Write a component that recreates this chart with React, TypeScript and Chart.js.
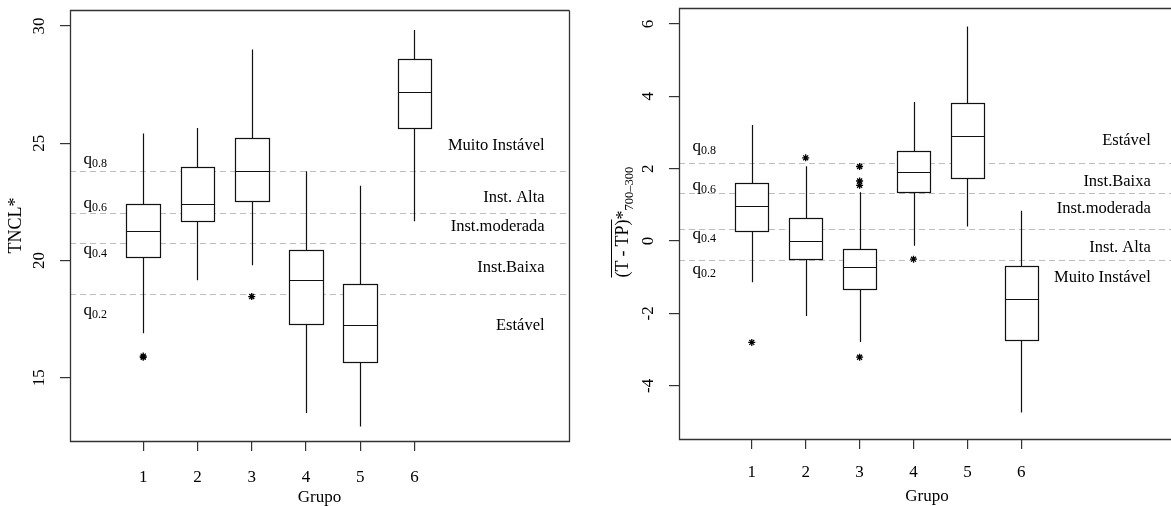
import React, { useEffect, useRef } from 'react';
import { Chart, registerables } from 'chart.js';

Chart.register(...registerables);

// ---------- data ----------
const groups = [1, 2, 3, 4, 5, 6];
const quantileNames = ['0.2', '0.4', '0.6', '0.8'];

// Left panel: TNCL*
const tnclWhiskerLow = [16.9, 19.15, 19.79, 13.49, 12.92, 21.67];
const tnclQ1 = [20.16, 21.67, 22.55, 17.31, 15.68, 25.65];
const tnclMedian = [21.25, 22.42, 23.83, 19.17, 17.24, 27.18];
const tnclQ3 = [22.42, 23.99, 25.21, 20.43, 19.0, 28.59];
const tnclWhiskerHigh = [25.41, 25.65, 29.0, 23.8, 23.19, 29.83];
const tnclOutliers = [[15.87, 15.92], [], [18.46], [], [], []];
const tnclQuantiles = [18.55, 20.75, 22.02, 23.83];
const tnclQuantileLabelY = [17.75, 20.34, 22.32, 24.2];
const tnclYTicks = [15, 20, 25, 30];
const tnclClasses = ['Estável', 'Inst.Baixa', 'Inst.moderada', 'Inst. Alta', 'Muito Instável'];
const tnclClassLabelY = [17.22, 19.71, 21.42, 22.68, 24.88];

// Right panel: (T-TP)*700-300
const ttpWhiskerLow = [-1.14, -2.07, -2.79, -0.13, 0.4, -4.74];
const ttpQ1 = [0.27, -0.5, -1.33, 1.36, 1.74, -2.74];
const ttpMedian = [0.96, 0.01, -0.73, 1.91, 2.9, -1.59];
const ttpQ3 = [1.6, 0.64, -0.22, 2.5, 3.81, -0.68];
const ttpWhiskerHigh = [3.21, 2.07, 1.35, 3.84, 5.93, 0.84];
const ttpOutliers = [[-2.8], [2.3], [2.06, 1.66, 1.54, -3.21], [-0.5], [], []];
const ttpQuantiles = [-0.53, 0.33, 1.34, 2.16];
const ttpQuantileLabelY = [-0.85, 0.1, 1.47, 2.53];
const ttpYTicks = [-4, -2, 0, 2, 4, 6];
const ttpClasses = ['Muito Instável', 'Inst. Alta', 'Inst.moderada', 'Inst.Baixa', 'Estável'];
const ttpClassLabelY = [-1.0, -0.17, 0.9, 1.64, 2.77];

// ---------- styling ----------
const SERIF = "'Liberation Serif', 'Times New Roman', serif";
const X_MIN = -0.35;
const X_MAX = 8.85;
const BOX_HALF = 0.31;
const Q_LABEL_X = -0.1;
const CLASS_LABEL_X = 8.4;

type PanelDef = {
  lo: number[]; q1: number[]; med: number[]; q3: number[]; hi: number[];
  outliers: number[][]; quantiles: number[]; qLabelY: number[];
  classes: string[]; classY: number[]; yTicks: number[];
  yMin: number; yMax: number; yTitle: string | null; customYTitle: boolean;
  canvasW: number; pageLeft: number; yAxisW: number; xAxisH: number;
  padTop: number; padRight: number; drawRightFrame: boolean;
  tickPadY: number; tickPadX: number; titlePadBottom: number;
};

function makePlugin(p: PanelDef) {
  return {
    id: 'boxplotDraw',
    beforeDatasetsDraw(chart: any) {
      const { ctx, chartArea: a, scales } = chart;
      const x = scales.x;
      const y = scales.y;
      ctx.save();
      ctx.beginPath();
      ctx.rect(a.left, a.top, a.right - a.left, a.bottom - a.top);
      ctx.clip();
      // quantile dashed lines
      ctx.strokeStyle = '#bdbdbd';
      ctx.lineWidth = 1;
      ctx.setLineDash([6, 4]);
      p.quantiles.forEach((q) => {
        const py = Math.round(y.getPixelForValue(q)) + 0.5;
        ctx.beginPath();
        ctx.moveTo(a.left, py);
        ctx.lineTo(a.right, py);
        ctx.stroke();
      });
      ctx.setLineDash([]);
      // quantile labels
      ctx.fillStyle = '#000';
      ctx.textAlign = 'left';
      ctx.textBaseline = 'alphabetic';
      const qx = x.getPixelForValue(Q_LABEL_X);
      p.qLabelY.forEach((v, i) => {
        const base = y.getPixelForValue(v) + 2;
        ctx.font = `17px ${SERIF}`;
        ctx.fillText('q', qx, base);
        const w = ctx.measureText('q').width;
        ctx.font = `12px ${SERIF}`;
        ctx.fillText(quantileNames[i], qx + w, base + 3);
      });
      // class labels
      ctx.font = `16.5px ${SERIF}`;
      ctx.textAlign = 'right';
      ctx.textBaseline = 'middle';
      const cxLab = x.getPixelForValue(CLASS_LABEL_X);
      p.classes.forEach((c, i) => {
        ctx.fillText(c, cxLab, y.getPixelForValue(p.classY[i]));
      });
      // boxes and whiskers
      ctx.strokeStyle = '#111';
      ctx.lineWidth = 1.2;
      groups.forEach((g, i) => {
        const cx = Math.round(x.getPixelForValue(g)) + 0.5;
        const l = Math.round(x.getPixelForValue(g - BOX_HALF)) + 0.5;
        const r = Math.round(x.getPixelForValue(g + BOX_HALF)) + 0.5;
        const yLo = y.getPixelForValue(p.lo[i]);
        const yQ1 = Math.round(y.getPixelForValue(p.q1[i])) + 0.5;
        const yMed = Math.round(y.getPixelForValue(p.med[i])) + 0.5;
        const yQ3 = Math.round(y.getPixelForValue(p.q3[i])) + 0.5;
        const yHi = y.getPixelForValue(p.hi[i]);
        ctx.beginPath();
        ctx.moveTo(cx, yQ3);
        ctx.lineTo(cx, yHi);
        ctx.moveTo(cx, yQ1);
        ctx.lineTo(cx, yLo);
        ctx.stroke();
        ctx.fillStyle = '#fff';
        ctx.fillRect(l, yQ3, r - l, yQ1 - yQ3);
        ctx.strokeRect(l, yQ3, r - l, yQ1 - yQ3);
        ctx.beginPath();
        ctx.moveTo(l, yMed);
        ctx.lineTo(r, yMed);
        ctx.stroke();
      });
      ctx.restore();
    },
    afterDraw(chart: any) {
      const { ctx, chartArea: a } = chart;
      ctx.save();
      ctx.strokeStyle = '#333';
      ctx.lineWidth = 1.3;
      const L = Math.round(a.left) + 0.5;
      const T = Math.round(a.top) + 0.5;
      const R = Math.round(a.right) + 0.5;
      const B = Math.round(a.bottom) + 0.5;
      ctx.beginPath();
      ctx.moveTo(R, T);
      ctx.lineTo(L, T);
      ctx.lineTo(L, B);
      ctx.lineTo(R, B);
      if (p.drawRightFrame) ctx.lineTo(R, T);
      ctx.stroke();
      if (p.customYTitle) {
        // (T-TP)* with overline and subscript 700–300, rotated
        const midY = (a.top + a.bottom) / 2;
        ctx.translate(38, midY + 54);
        ctx.rotate(-Math.PI / 2);
        ctx.fillStyle = '#000';
        ctx.textAlign = 'left';
        ctx.textBaseline = 'alphabetic';
        ctx.font = `18px ${SERIF}`;
        let px = 0;
        const gap = 4;
        ctx.fillText('(T', px, 0);
        px += ctx.measureText('(T').width + gap;
        ctx.fillText('-', px, 0);
        px += ctx.measureText('-').width + gap;
        ctx.fillText('TP)', px, 0);
        px += ctx.measureText('TP)').width;
        const overEnd = px;
        ctx.fillText('*', px, 1);
        px += ctx.measureText('*').width;
        ctx.font = `12.5px ${SERIF}`;
        ctx.fillText('700–300', px, 5);
        ctx.strokeStyle = '#000';
        ctx.lineWidth = 1;
        ctx.beginPath();
        ctx.moveTo(0, -16.5);
        ctx.lineTo(overEnd, -16.5);
        ctx.stroke();
      }
      ctx.restore();
    },
  };
}

function zeroPadding(s: any) {
  s.paddingTop = 0;
  s.paddingBottom = 0;
  s.paddingLeft = 0;
  s.paddingRight = 0;
}

function buildConfig(p: PanelDef): any {
  const outlierData: { x: number; y: number }[] = [];
  p.outliers.forEach((arr, i) => arr.forEach((v) => outlierData.push({ x: groups[i], y: v })));
  const tickFont = { family: SERIF, size: 17 };
  return {
    type: 'scatter',
    data: {
      datasets: [
        {
          label: 'outliers',
          data: outlierData,
          pointStyle: 'star',
          radius: 3.5,
          borderWidth: 1.3,
          borderColor: '#000',
          backgroundColor: '#000',
        },
      ],
    },
    options: {
      animation: false,
      responsive: false,
      devicePixelRatio: 1,
      layout: { padding: { top: p.padTop, right: p.padRight, left: 0, bottom: 0 } },
      plugins: { legend: { display: false }, tooltip: { enabled: false } },
      scales: {
        x: {
          type: 'linear',
          min: X_MIN,
          max: X_MAX,
          afterBuildTicks: (s: any) => {
            s.ticks = groups.map((v) => ({ value: v }));
          },
          afterFit: (s: any) => {
            s.height = p.xAxisH;
            zeroPadding(s);
          },
          border: { display: false },
          grid: { drawOnChartArea: false, drawTicks: true, tickLength: 10, color: '#333', lineWidth: 1.2 },
          ticks: {
            font: tickFont,
            color: '#000',
            padding: p.tickPadX,
            autoSkip: false,
            maxRotation: 0,
            minRotation: 0,
            callback: (v: any) => String(v),
          },
          title: {
            display: true,
            text: 'Grupo',
            color: '#000',
            font: { family: SERIF, size: 17, lineHeight: 1 },
            padding: { top: 0, bottom: p.titlePadBottom },
          },
        },
        y: {
          type: 'linear',
          min: p.yMin,
          max: p.yMax,
          afterBuildTicks: (s: any) => {
            s.ticks = p.yTicks.map((v) => ({ value: v }));
          },
          afterFit: (s: any) => {
            s.width = p.yAxisW;
            zeroPadding(s);
          },
          border: { display: false },
          grid: { drawOnChartArea: false, drawTicks: true, tickLength: 10, color: '#333', lineWidth: 1.2 },
          ticks: {
            font: tickFont,
            color: '#000',
            padding: p.tickPadY,
            minRotation: 90,
            maxRotation: 90,
            crossAlign: 'center',
            autoSkip: false,
            callback: (v: any) => String(v),
          },
          title: {
            display: !!p.yTitle,
            text: p.yTitle || '',
            color: '#000',
            font: { family: SERIF, size: 18, lineHeight: 1 },
            padding: { top: 7, bottom: 0 },
          },
        },
      },
    },
    plugins: [makePlugin(p)],
  };
}

const leftPanel: PanelDef = {
  lo: tnclWhiskerLow, q1: tnclQ1, med: tnclMedian, q3: tnclQ3, hi: tnclWhiskerHigh,
  outliers: tnclOutliers, quantiles: tnclQuantiles, qLabelY: tnclQuantileLabelY,
  classes: tnclClasses, classY: tnclClassLabelY, yTicks: tnclYTicks,
  yMin: 12.3, yMax: 30.68, yTitle: 'TNCL*', customYTitle: false,
  canvasW: 585, pageLeft: 0, yAxisW: 70, xAxisH: 65, padTop: 10, padRight: 16,
  drawRightFrame: true, tickPadY: 12, tickPadX: 16, titlePadBottom: 0,
};

const rightPanel: PanelDef = {
  lo: ttpWhiskerLow, q1: ttpQ1, med: ttpMedian, q3: ttpQ3, hi: ttpWhiskerHigh,
  outliers: ttpOutliers, quantiles: ttpQuantiles, qLabelY: ttpQuantileLabelY,
  classes: ttpClasses, classY: ttpClassLabelY, yTicks: ttpYTicks,
  yMin: -5.47, yMax: 6.44, yTitle: null, customYTitle: true,
  canvasW: 600, pageLeft: 590, yAxisW: 89, xAxisH: 67, padTop: 8, padRight: 15,
  drawRightFrame: true, tickPadY: 13, tickPadX: 13, titlePadBottom: 1,
};

function Panel({ p }: { p: PanelDef }) {
  const ref = useRef<HTMLCanvasElement>(null);
  useEffect(() => {
    if (!ref.current) return;
    const chart = new Chart(ref.current, buildConfig(p));
    return () => chart.destroy();
  }, []);
  return (
    <canvas
      ref={ref}
      width={p.canvasW}
      height={506}
      style={{ position: 'absolute', left: p.pageLeft, top: 0, width: p.canvasW, height: 506, display: 'block' }}
    />
  );
}

export default function App() {
  return (
    <div
      style={{
        position: 'absolute',
        left: 0,
        top: 0,
        width: 1171,
        height: 506,
        overflow: 'hidden',
        background: '#fff',
      }}
    >
      <Panel p={leftPanel} />
      <Panel p={rightPanel} />
    </div>
  );
}
